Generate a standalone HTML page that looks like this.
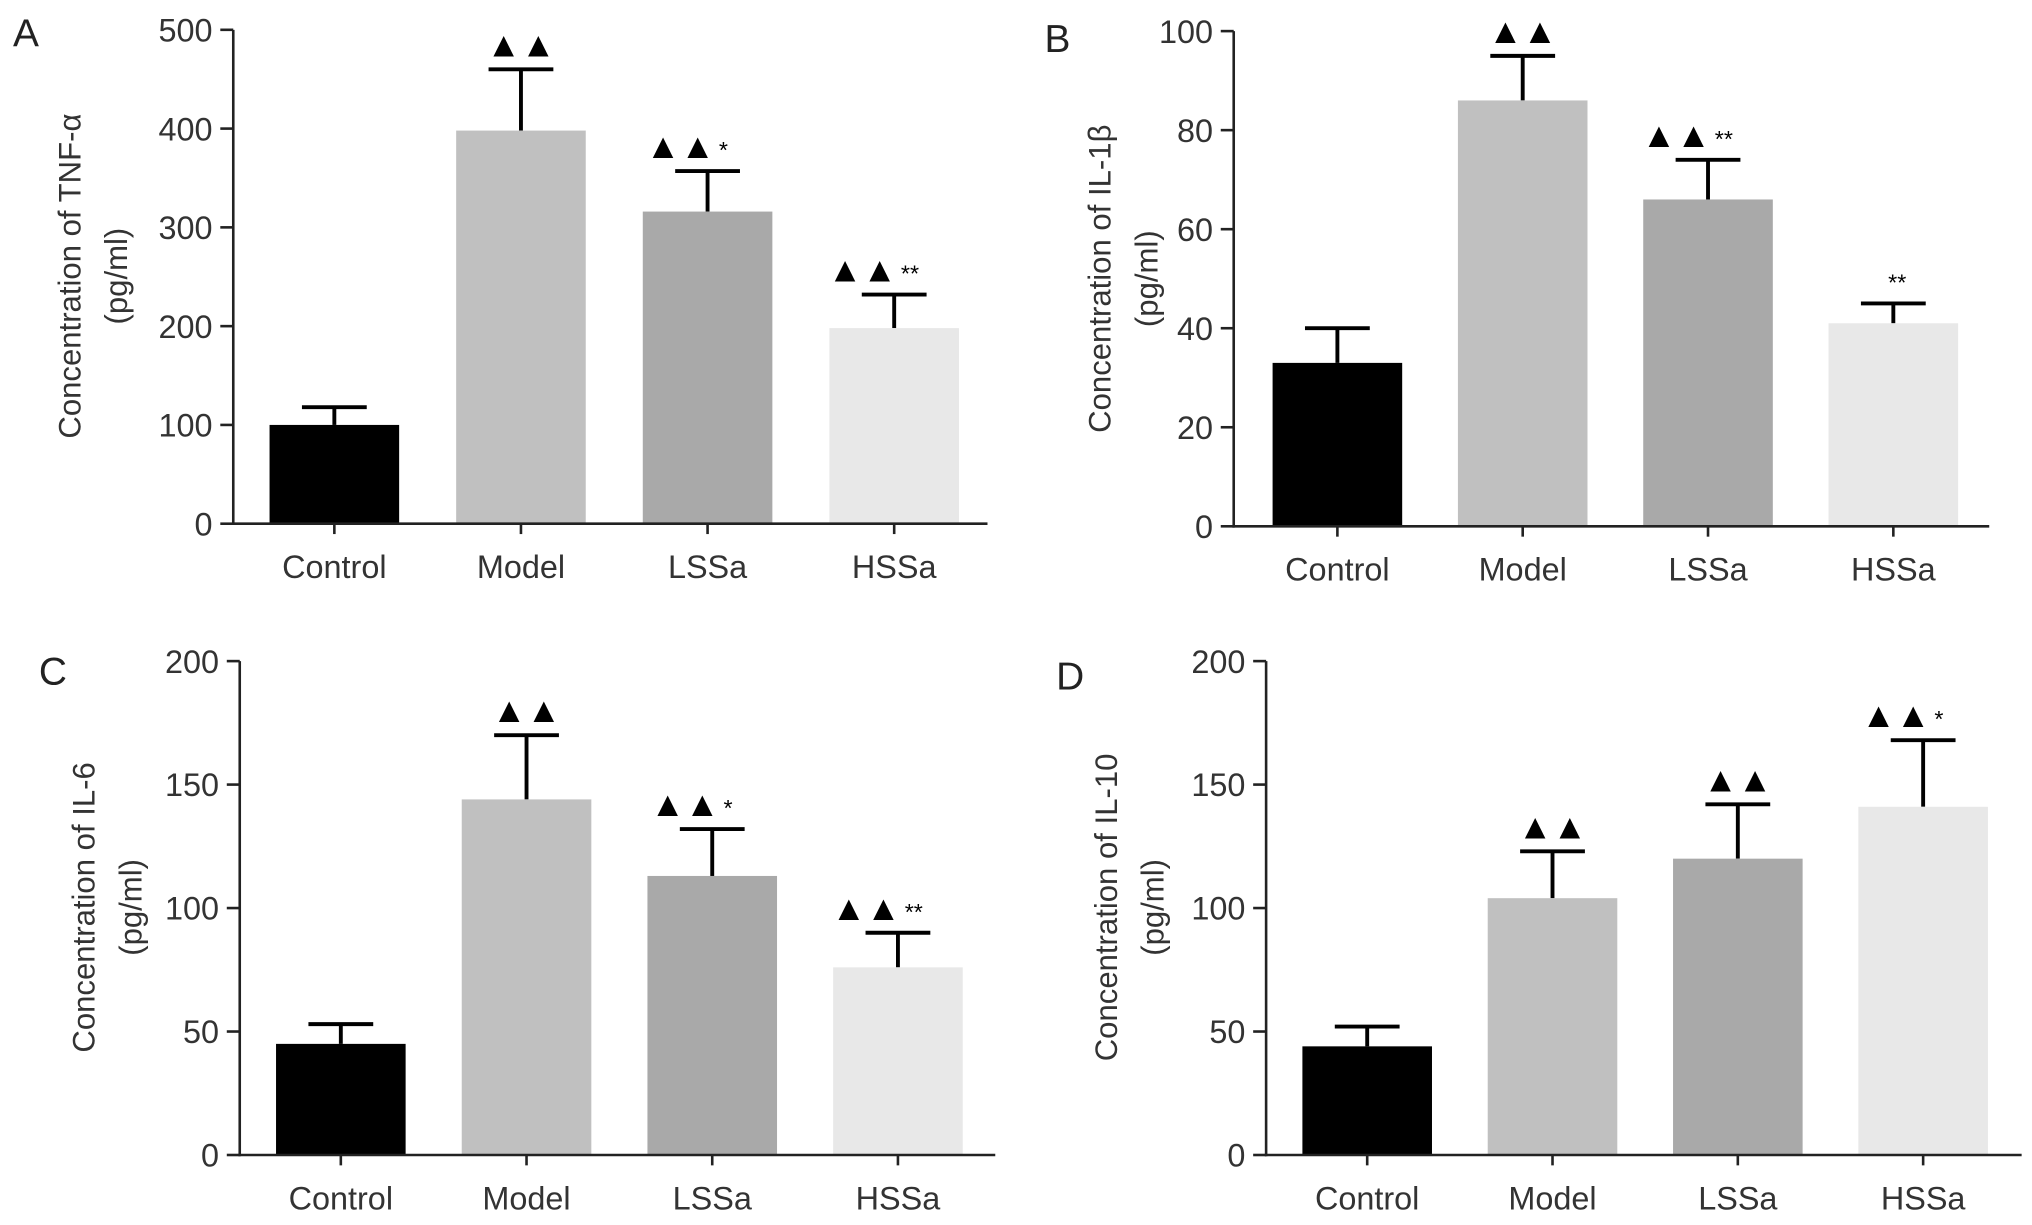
<!DOCTYPE html>
<html><head><meta charset="utf-8"><style>
html,body{margin:0;padding:0;background:#fff}
svg{display:block;font-family:"Liberation Sans",sans-serif}
</style></head><body>
<svg id="chart" width="2032" height="1225" viewBox="0 0 1568 945" preserveAspectRatio="none" xmlns="http://www.w3.org/2000/svg"></svg>
<script>
const categories = ["Control","Model","LSSa","HSSa"];
const tnfValues = [100,398,316,198];
const tnfErrors = [118,460,357,232];
const il1bValues = [33,86,66,41];
const il1bErrors = [40,95,74,45];
const il6Values = [45,144,113,76];
const il6Errors = [53,170,132,90];
const il10Values = [44,104,120,141];
const il10Errors = [52,123,142,168];
const tnfTicks = [0,100,200,300,400,500];
const il1bTicks = [0,20,40,60,80,100];
const il6Ticks = [0,50,100,150,200];
const il10Ticks = [0,50,100,150,200];
const tnfMarks = ["","▲▲","▲▲*","▲▲**"];
const il1bMarks = ["","▲▲","▲▲**","**"];
const il6Marks = ["","▲▲","▲▲*","▲▲**"];
const il10Marks = ["","▲▲","▲▲","▲▲*"];
const colors = ["#000000","#c0c0c0","#a9a9a9","#e8e8e8"];

const svg = document.getElementById('chart');
const NS = "http://www.w3.org/2000/svg";
function mk(tag, attrs, parent){
  const e = document.createElementNS(NS, tag);
  for (const k in attrs) e.setAttribute(k, attrs[k]);
  (parent||svg).appendChild(e);
  return e;
}
const panels = [
  {id:"a",letter:"A",lx:10,ly:36,ax:180,y0:404,ymax:500,ytop:23,x1:762,bar0:208,step:144,vals:tnfValues,errs:tnfErrors,ticks:tnfTicks,marks:tnfMarks,title:"Concentration of TNF-α",tx:62,ty:213},
  {id:"b",letter:"B",lx:806,ly:40,ax:952,y0:406,ymax:100,ytop:24,x1:1535,bar0:982,step:143,vals:il1bValues,errs:il1bErrors,ticks:il1bTicks,marks:il1bMarks,title:"Concentration of IL-1β",tx:857,ty:215},
  {id:"c",letter:"C",lx:30,ly:528,ax:185,y0:891,ymax:200,ytop:510,x1:768,bar0:213,step:143.3,vals:il6Values,errs:il6Errors,ticks:il6Ticks,marks:il6Marks,title:"Concentration of IL-6",tx:73,ty:700},
  {id:"d",letter:"D",lx:815,ly:532,ax:977,y0:891,ymax:200,ytop:510,x1:1560,bar0:1005,step:143,vals:il10Values,errs:il10Errors,ticks:il10Ticks,marks:il10Marks,title:"Concentration of IL-10",tx:862,ty:700}
];
panels.forEach(p=>{
  const g = mk('g',{});
  
  
  const y = v => p.y0 - (v/p.ymax)*(p.y0-p.ytop);
  const L = mk('text',{x:p.lx,y:p.ly,'font-size':30,fill:'#222'},g);
  L.textContent = p.letter;
  
  
  const t = mk('text',{transform:`translate(${p.tx},${p.ty}) rotate(-90)`,'font-size':24,fill:'#333','text-anchor':'middle'},g);
  
  
  const ts1 = mk('tspan',{x:0,dy:0},t); ts1.textContent = p.title;
  const ts2 = mk('tspan',{x:0,dy:36},t); ts2.textContent = "(pg/ml)";
  p.vals.forEach((v,i)=>{
    const bx = p.bar0 + i*p.step, cx = bx+50;
    const ey = y(p.errs[i]);
    const el = mk('line',{x1:cx,x2:cx,y1:y(v),y2:ey,stroke:'#000','stroke-width':3},g);
    
    
    mk('line',{x1:cx-25,x2:cx+25,y1:ey,y2:ey,stroke:'#000','stroke-width':3},g);
    const r = mk('rect',{x:bx,y:y(v),width:100,height:p.y0-y(v),fill:colors[i]},g);
    
    
    const m = p.marks[i];
    if (m){
      const tri = m.replace(/\*/g,''), st = m.replace(/▲/g,'');
      const mt = mk('text',{x:cx+(st&&tri?-16:0),y:ey-10,'font-size':27,'text-anchor':'middle',fill:'#000'},g);
      
      
      mt.textContent = tri;
      if (st){ const s = mk('tspan',{'font-size':18,dx:3},mt); s.textContent = st; }
    }
    mk('line',{x1:cx,x2:cx,y1:p.y0,y2:p.y0+8,stroke:'#222','stroke-width':2},g);
    const xl = mk('text',{x:cx,y:p.y0+42,'font-size':25,'text-anchor':'middle',fill:'#333'},g);
    
    
    xl.textContent = categories[i];
  });
  const ya = mk('line',{x1:p.ax,x2:p.ax,y1:p.ytop,y2:p.y0+1,stroke:'#222','stroke-width':2},g);
  
  
  const xa = mk('line',{x1:p.ax-1,x2:p.x1,y1:p.y0,y2:p.y0,stroke:'#222','stroke-width':2},g);
  
  
  p.ticks.forEach(tv=>{
    mk('line',{x1:p.ax-10,x2:p.ax,y1:y(tv),y2:y(tv),stroke:'#222','stroke-width':2},g);
    const tl = mk('text',{x:p.ax-16,y:y(tv)+9,'font-size':25,'text-anchor':'end',fill:'#333'},g);
    
    
    tl.textContent = tv;
  });
});
</script>
</body></html>
